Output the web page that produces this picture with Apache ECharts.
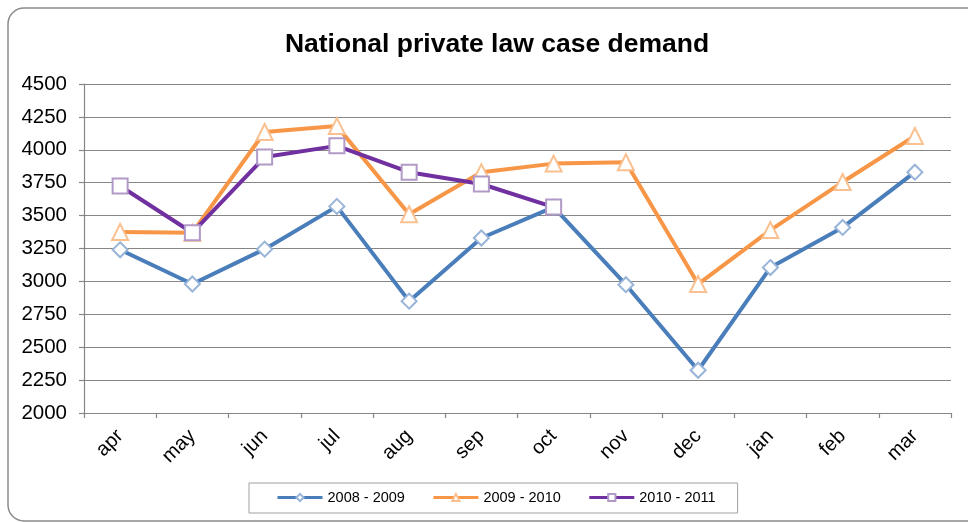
<!DOCTYPE html>
<html>
<head>
<meta charset="utf-8">
<script src="https://cdn.jsdelivr.net/npm/echarts@6/dist/echarts.min.js"></script>
<style>
  html, body { margin: 0; padding: 0; background: #fff; }
  #chart { width: 968px; height: 523px; }
</style>
</head>
<body>
<div id="chart"></div>
<script>
// months of the financial year
const months = ['apr', 'may', 'jun', 'jul', 'aug', 'sep', 'oct', 'nov', 'dec', 'jan', 'feb', 'mar'];

const demand0809 = [3240, 2980, 3245, 3570, 2850, 3330, 3565, 2975, 2325, 3105, 3410, 3830];
const demand0910 = [3375, 3370, 4135, 4180, 3510, 3830, 3895, 3905, 2980, 3390, 3755, 4105];
const demand1011 = [3725, 3370, 3945, 4030, 3830, 3740, 3565];

const font = 'Liberation Sans, Arial, sans-serif';
const gridColor = '#868686';

function lineSeries(name, data, color, border, symbol, size) {
  return {
    name: name,
    type: 'line',
    data: data,
    symbol: symbol,
    symbolSize: size,
    lineStyle: { color: color, width: 4 },
    itemStyle: { color: '#fff', borderColor: border, borderWidth: 2 },
    emphasis: { disabled: true }
  };
}

const chart = echarts.init(document.getElementById('chart'));
chart.setOption({
  animation: false,
  title: {
    text: 'National private law case demand',
    left: 492,
    textAlign: 'center',
    top: 26,
    textStyle: { fontFamily: font, fontSize: 26.5, fontWeight: 'bold', color: '#000' }
  },
  graphic: [{
    type: 'rect',
    shape: { x: 8, y: 8, width: 980, height: 513, r: 16 },
    style: { fill: 'none', stroke: '#8a8a8a', lineWidth: 1.5 },
    silent: true
  }],
  legend: {
    left: 249,
    top: 483,
    padding: [7, 22, 8, 27],
    borderColor: '#a0a0a0',
    borderWidth: 1,
    itemWidth: 45,
    itemHeight: 9,
    itemGap: 27,
    lineStyle: { width: 3 },
    textStyle: { fontFamily: font, fontSize: 14.5, color: '#000' }
  },
  grid: { left: 84, right: 17, top: 84, bottom: 110 },
  xAxis: {
    type: 'category',
    data: months,
    boundaryGap: true,
    axisLine: { lineStyle: { color: gridColor, width: 1.2 } },
    axisTick: { show: true, length: 5, lineStyle: { color: gridColor, width: 1.2 } },
    axisLabel: { rotate: 45, margin: 20, fontFamily: font, fontSize: 20, color: '#000' }
  },
  yAxis: {
    type: 'value',
    min: 2000,
    max: 4500,
    interval: 250,
    axisLine: { show: true, lineStyle: { color: gridColor, width: 1.2 } },
    axisTick: { show: true, length: 5, lineStyle: { color: gridColor, width: 1.2 } },
    axisLabel: {
      margin: 17, fontFamily: font, fontSize: 20.5, color: '#000',
      formatter: function (v) { return String(v); }
    },
    splitLine: { lineStyle: { color: gridColor, width: 1.2 } }
  },
  series: [
    lineSeries('2008 - 2009', demand0809, '#4a7ebb', '#98b4d8', 'diamond', 15),
    lineSeries('2009 - 2010', demand0910, '#f79646', '#fac08f', 'triangle', 16),
    lineSeries('2010 - 2011', demand1011, '#7030a0', '#b29ac8', 'rect', 15)
  ]
});
</script>
</body>
</html>
